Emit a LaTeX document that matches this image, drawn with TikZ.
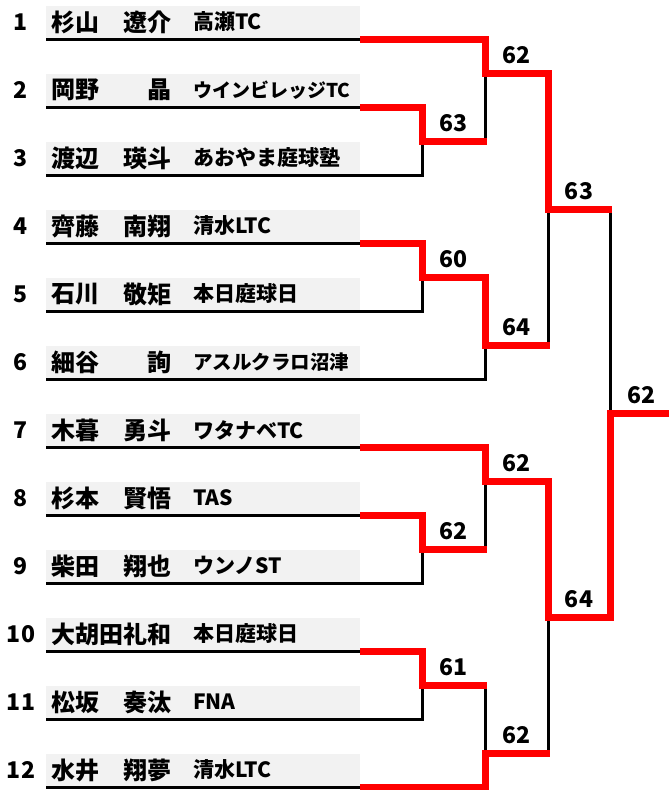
\documentclass[tikz,border=0pt]{standalone}
\usepackage{fontspec}
\setmainfont{Noto Sans CJK JP}
\definecolor{winred}{RGB}{255,0,0}
\definecolor{boxgrey}{RGB}{242,242,242}
\begin{document}
\begin{tikzpicture}[x=1pt,y=-1pt,
  rowbox/.style={fill=boxgrey, draw=none, minimum width=314pt, minimum height=33pt, anchor=south west, inner sep=0pt, outer sep=0pt},
  seednum/.style={font=\fontsize{23}{23}\selectfont\bfseries, inner sep=0pt},
  pname/.style={font=\fontsize{24}{24}\selectfont\bfseries, inner sep=0pt},
  club/.style={inner sep=0pt, anchor=west},
  score/.style={font=\fontsize{23}{23}\selectfont\bfseries, inner sep=0pt},
  lose/.style={line width=3pt, black, line join=miter},
  win/.style={line width=7pt, winred, line join=miter},
]
\useasboundingbox (0,0) rectangle (669,790);

\foreach \k/\fa/\gi/\cl/\cs in {
  1/杉山/遼介/高瀬TC/21,
  2/岡野/晶/ウインビレッジTC/19,
  3/渡辺/瑛斗/あおやま庭球塾/21,
  4/齊藤/南翔/清水LTC/21,
  5/石川/敬矩/本日庭球日/21,
  6/細谷/詢/アスルクラロ沼津/19.5,
  7/木暮/勇斗/ワタナベTC/21,
  8/杉本/賢悟/TAS/21,
  9/柴田/翔也/ウンノST/21,
  11/松坂/奏汰/FNA/21,
  12/水井/翔夢/清水LTC/21}{
  \pgfmathsetmacro\yy{39+68*(\k-1)}
  \node[rowbox] (r\k) at (46,\yy) {};
  \draw[lose] (r\k.south west) -- (r\k.south east);
  \node[seednum] (n\k) at (21,\yy-17) {\k};
  \node[pname, anchor=west] (f\k) at (51,\yy-17) {\fa};
  \node[pname, anchor=east] (g\k) at (172,\yy-17) {\gi};
  \node[club, font=\fontsize{\cs}{\cs}\selectfont\bfseries] (c\k) at (193,\yy-17) {\cl};
}
% row 10 (five-character name)
\node[rowbox] (r10) at (46,651) {};
\draw[lose] (r10.south west) -- (r10.south east);
\node[seednum] (n10) at (21,634) {10};
\node[pname, anchor=west] (f10) at (51,634) {大胡田礼和};
\node[club, font=\fontsize{21}{21}\selectfont\bfseries] (c10) at (193,634) {本日庭球日};

% match points
\coordinate (m1) at (422,141);
\coordinate (m2) at (485,73);
\coordinate (m3) at (422,277);
\coordinate (m4) at (485,345);
\coordinate (m5) at (548,209);
\coordinate (m6) at (422,549);
\coordinate (m7) at (485,481);
\coordinate (m8) at (422,685);
\coordinate (m9) at (485,753);
\coordinate (m10) at (548,617);
\coordinate (m11) at (610,413);
\coordinate (champ) at (669,413);

% losing lines
\draw[lose] (r3.south east) -| (m1);
\draw[lose] (m1 -| m2) -- (m2);
\draw[lose] (r5.south east) -| (m3);
\draw[lose] (r6.south east) -| (m4);
\draw[lose] (m4 -| m5) -- (m5);
\draw[lose] (r9.south east) -| (m6);
\draw[lose] (m6 -| m7) -- (m7);
\draw[lose] (r11.south east) -| (m8);
\draw[lose] (m8 -| m9) -- (m9);
\draw[lose] (m9 -| m10) -- (m10);
\draw[lose] (m5 -| m11) -- (m11);

% winning lines
\draw[win] (r1.south east) -| (m2) -| (m5) -- ([xshift=1.5pt]m5 -| m11);
\draw[win] (r2.south east) -| (m1) -- ([xshift=1.5pt]m1 -| m2);
\draw[win] (r4.south east) -| (m3) -| (m4) -- ([xshift=1.5pt]m4 -| m5);
\draw[win] (r8.south east) -| (m6) -- ([xshift=1.5pt]m6 -| m7);
\draw[win] (r7.south east) -| (m7) -| (m10) -| (m11) -- (champ);
\draw[win] (r10.south east) -| (m8) -- ([xshift=1.5pt]m8 -| m9);
\draw[win] (r12.south east) -| (m9) -- ([xshift=1.5pt]m9 -| m10);

% scores
\node[score] (s1) at (453.5,123) {63};
\node[score] (s2) at (516.5,55) {62};
\node[score] (s3) at (453.5,259) {60};
\node[score] (s4) at (516.5,327) {64};
\node[score] (s5) at (579,191) {63};
\node[score] (s6) at (453.5,531) {62};
\node[score] (s7) at (516.5,463) {62};
\node[score] (s8) at (453.5,667) {61};
\node[score] (s9) at (516.5,735) {62};
\node[score] (s10) at (579,599) {64};
\node[score] (s11) at (641,395) {62};
\end{tikzpicture}
\end{document}
